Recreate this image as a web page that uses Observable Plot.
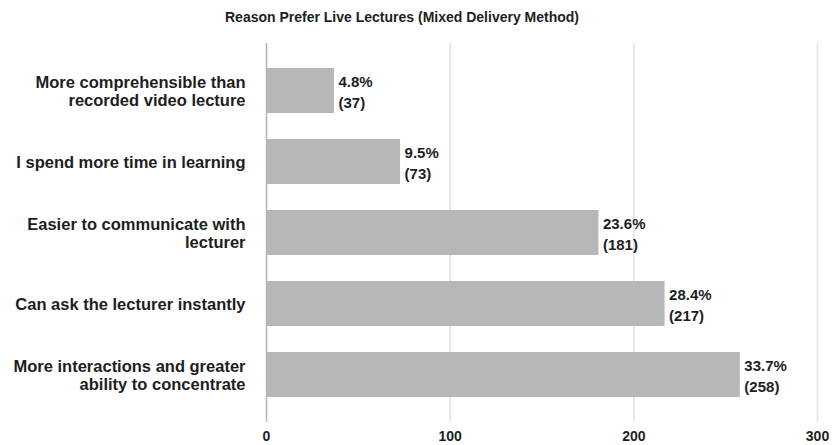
<!DOCTYPE html>
<html>
<head>
<meta charset="utf-8">
<script src="https://cdn.jsdelivr.net/npm/d3@7"></script>
<script src="https://cdn.jsdelivr.net/npm/@observablehq/plot@0.6"></script>
<style>
  body { margin: 0; background: #fff; font-family: "Liberation Sans", Arial, sans-serif; }
  #title { width: 804px; height: 26px; box-sizing: border-box; padding-top: 9px; text-align: center;
           font-weight: bold; font-size: 14px; line-height: 16px; color: #1e1e1e; }
</style>
</head>
<body>
<div id="title">Reason Prefer Live Lectures (Mixed Delivery Method)</div>
<div id="chart"></div>
<script>
const categories = [
  "More comprehensible than\nrecorded video lecture",
  "I spend more time in learning",
  "Easier to communicate with\nlecturer",
  "Can ask the lecturer instantly",
  "More interactions and greater\nability to concentrate"
];
const counts = [37, 73, 181, 217, 258];
const percents = ["4.8%", "9.5%", "23.6%", "28.4%", "33.7%"];
const xTicks = [0, 100, 200, 300];

const data = categories.map((c, i) => ({category: c, count: counts[i], pct: percents[i]}));

const chart = Plot.plot({
  width: 833,
  height: 419,
  marginTop: 17,
  marginBottom: 23,
  marginLeft: 266,
  marginRight: 16,
  style: {fontFamily: '"Liberation Sans", Arial, sans-serif', color: "#1e1e1e", background: "#fff"},
  x: {domain: [0, 300], ticks: xTicks},
  y: {domain: categories, paddingInner: 0.36, paddingOuter: 0.34},
  marks: [
    Plot.gridX(xTicks.slice(1), {stroke: "#e2e2e2", strokeOpacity: 1, strokeWidth: 1.5}),
    Plot.barX(data, {x: "count", y: "category", fill: "#b7b7b7"}),
    Plot.ruleX([0], {stroke: "#b5b5b5", strokeWidth: 1.5}),
    Plot.text(data, {x: "count", y: "category", text: d => `${d.pct}\n(${d.count})`,
      textAnchor: "start", dx: 4, fontSize: 15, fontWeight: "bold", lineHeight: 1.36, fill: "#1e1e1e"}),
    Plot.axisY({tickSize: 0, tickPadding: 21, fontSize: 16.5, fontWeight: "bold", lineHeight: 1.12,
      tickFormat: d => d, label: null}),
    Plot.axisX({ticks: xTicks, tickSize: 0, tickPadding: 9, fontSize: 14, fontWeight: "bold", label: null})
  ]
});
document.getElementById("chart").appendChild(chart);
</script>
</body>
</html>
